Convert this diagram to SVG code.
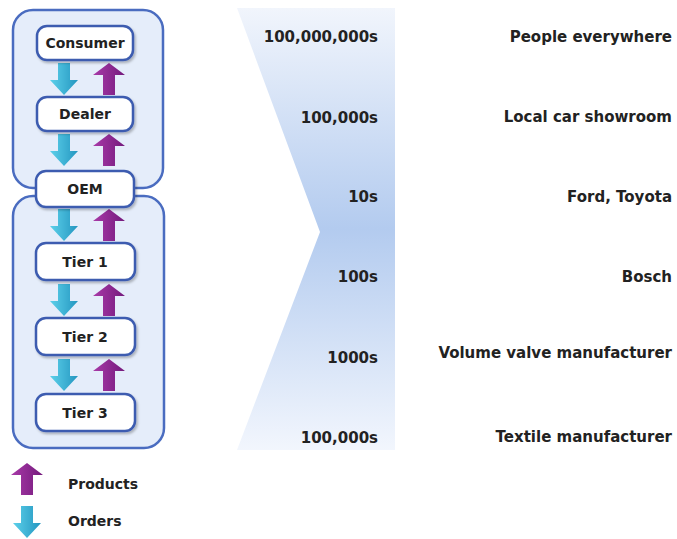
<svg xmlns="http://www.w3.org/2000/svg" width="677" height="539" viewBox="0 0 677 539">
<style>
text{font-family:"DejaVu Sans","Liberation Sans",sans-serif;font-weight:bold;fill:#222;}
.n{font-size:14px;text-anchor:middle;}
.num{font-size:15px;text-anchor:end;}
.lab{font-size:15px;text-anchor:end;}
.leg{font-size:14px;}
.cont{fill:#e5edfa;stroke:#4a6cc0;stroke-width:2.5;}
.box{fill:#fff;stroke:#3c5cb0;stroke-width:2.5;filter:url(#sh);}
</style>
<defs>
<linearGradient id="fun" x1="0" y1="0" x2="0" y2="1">
<stop offset="0" stop-color="#f1f5fc"/>
<stop offset="0.5" stop-color="#b3cbef"/>
<stop offset="1" stop-color="#f2f6fd"/>
</linearGradient>
<linearGradient id="cy" x1="0" y1="0" x2="1" y2="0">
<stop offset="0" stop-color="#5cd0ea"/>
<stop offset="1" stop-color="#2496c0"/>
</linearGradient>
<linearGradient id="pu" x1="0" y1="0" x2="1" y2="0">
<stop offset="0" stop-color="#a83aa8"/>
<stop offset="1" stop-color="#741a7c"/>
</linearGradient>
<filter id="sh" x="-10%" y="-20%" width="130%" height="150%">
<feDropShadow dx="1.5" dy="2" stdDeviation="1.2" flood-color="#000" flood-opacity="0.25"/>
</filter>
<path id="down" d="M-6,0 H6 V17 H14 L0,32 L-14,17 H-6 Z" fill="url(#cy)"/>
<path id="up" d="M0,0 L16,12 H6 V32 H-6 V12 H-16 Z" fill="url(#pu)"/>
</defs>

<g id="funnel">
<polygon points="237,8 395,8 395,450 237,450 320,232" fill="url(#fun)"/>
</g>

<g id="containers">
<rect id="upper" class="cont" x="13" y="10" width="150" height="178" rx="20"/>
<rect id="lower" class="cont" x="13" y="196" width="151" height="252" rx="20"/>
</g>

<g id="connectors">
<use href="#down" x="64" y="63"/><use href="#up" x="109" y="63"/>
<use href="#down" x="64" y="134"/><use href="#up" x="109" y="134"/>
<use href="#down" x="64" y="209"/><use href="#up" x="109" y="209"/>
<use href="#down" x="64" y="284"/><use href="#up" x="109" y="284"/>
<use href="#down" x="64" y="359"/><use href="#up" x="109" y="359"/>
</g>

<g id="consumer"><rect class="box" x="37" y="26" width="96" height="34" rx="10"/><text class="n" x="85" y="48">Consumer</text></g>
<g id="dealer"><rect class="box" x="37" y="97" width="96" height="34" rx="10"/><text class="n" x="85" y="119">Dealer</text></g>
<g id="oem"><rect class="box" x="36" y="171" width="98" height="36" rx="10"/><text class="n" x="85" y="194">OEM</text></g>
<g id="tier1"><rect class="box" x="36" y="243" width="99" height="37" rx="10"/><text class="n" x="85" y="267">Tier 1</text></g>
<g id="tier2"><rect class="box" x="36" y="318" width="99" height="37" rx="10"/><text class="n" x="85" y="342">Tier 2</text></g>
<g id="tier3"><rect class="box" x="36" y="394" width="99" height="37" rx="10"/><text class="n" x="85" y="418">Tier 3</text></g>

<g id="counts">
<text class="num" x="378" y="42">100,000,000s</text>
<text class="num" x="378" y="123">100,000s</text>
<text class="num" x="378" y="202">10s</text>
<text class="num" x="378" y="282">100s</text>
<text class="num" x="378" y="363">1000s</text>
<text class="num" x="378" y="443">100,000s</text>
</g>

<g id="examples">
<text class="lab" x="672" y="42">People everywhere</text>
<text class="lab" x="672" y="122">Local car showroom</text>
<text class="lab" x="672" y="202">Ford, Toyota</text>
<text class="lab" x="672" y="282">Bosch</text>
<text class="lab" x="672" y="358">Volume valve manufacturer</text>
<text class="lab" x="672" y="442">Textile manufacturer</text>
</g>

<g id="legend">
<use href="#up" x="27" y="463"/>
<text class="leg" x="68" y="489">Products</text>
<use href="#down" x="27" y="506"/>
<text class="leg" x="68" y="526">Orders</text>
</g>
</svg>
